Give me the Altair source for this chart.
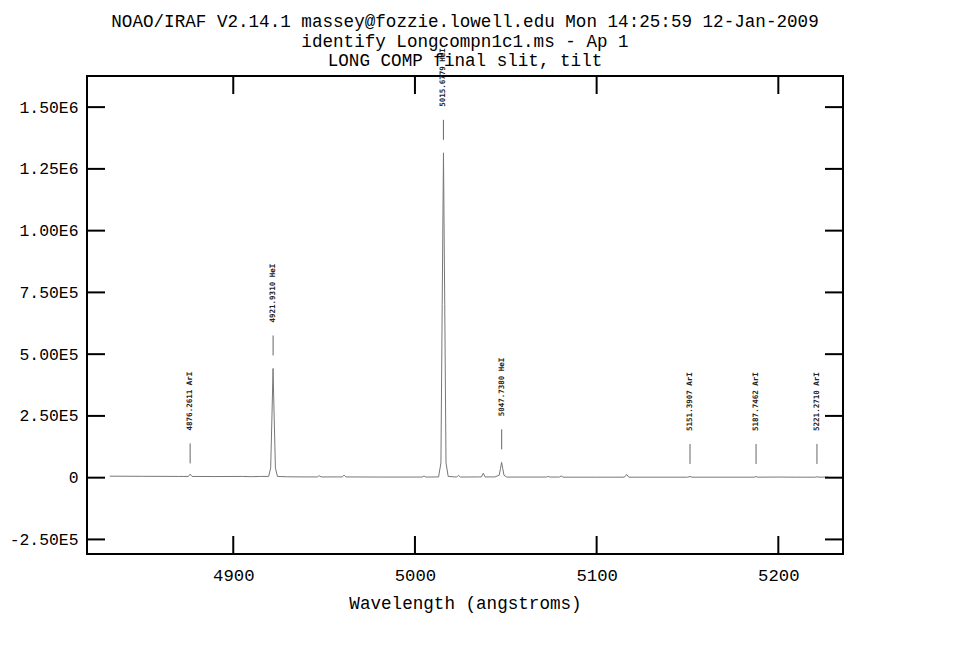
import altair as alt
import pandas as pd

# ---------------- text ----------------
title_lines = [
    "NOAO/IRAF V2.14.1 massey@fozzie.lowell.edu Mon 14:25:59 12-Jan-2009",
    "identify Longcompn1c1.ms - Ap 1",
    "LONG COMP final slit, tilt",
]
x_title = "Wavelength (angstroms)"

# ---------------- spectrum ----------------
spec_wl = [4832.0, 4850.0, 4870.0, 4875.3, 4876.3, 4877.3, 4890.0, 4905.0, 4910.0, 4915.0,
           4919.5, 4920.6, 4921.3, 4921.9, 4922.5, 4923.2, 4924.3, 4930.0, 4940.0, 4946.3,
           4947.3, 4948.3, 4958.0, 4960.0, 4961.0, 4962.0, 4980.0, 5000.0, 5004.0, 5005.0,
           5006.0, 5013.0, 5014.3, 5015.0, 5015.7, 5016.4, 5017.1, 5018.3, 5022.0, 5023.0,
           5024.0, 5025.0, 5035.0, 5036.6, 5037.6, 5038.6, 5044.0, 5046.4, 5047.1, 5047.7,
           5048.3, 5049.0, 5050.5, 5072.4, 5073.4, 5074.4, 5079.5, 5080.5, 5081.5, 5100.0,
           5115.3, 5116.5, 5117.7, 5150.0, 5151.4, 5152.5, 5170.0, 5186.7, 5187.7, 5188.7,
           5200.0, 5210.0, 5220.3, 5221.3, 5222.3, 5227.5]
spec_flux = [6000, 5500, 5000, 5000, 14000, 5000, 4500, 5000, 4000, 5000,
             5000, 40000, 250000, 442000, 250000, 40000, 5000, 3500, 3000, 3000,
             8000, 3000, 3000, 3000, 10000, 3000, 2500, 2500, 2500, 7000,
             2500, 3000, 60000, 700000, 1315000, 700000, 60000, 5000, 3000, 3000,
             9000, 2500, 3000, 3000, 18000, 3000, 3000, 10000, 38000, 62000,
             38000, 10000, 2500, 2500, 5000, 2500, 2500, 7000, 2000, 2000,
             2000, 13000, 2000, 2000, 4500, 2000, 2000, 2000, 4500, 2000,
             2500, 2000, 2000, 3500, 2000, 2500]

# ---------------- identified lines ----------------
line_wl = [4876.2611, 4921.9310, 5015.6779, 5047.7380, 5151.3907, 5187.7462, 5221.2710]
line_label = ["4876.2611 ArI", "4921.9310 HeI", "5015.6779 HeI", "5047.7380 HeI",
              "5151.3907 ArI", "5187.7462 ArI", "5221.2710 ArI"]
line_peak = [5000, 442000, 1315000, 62000, 3000, 3000, 3000]

# ---------------- axes ----------------
x_ticks = [4900, 5000, 5100, 5200]
y_ticks = [-250000, 0, 250000, 500000, 750000, 1000000, 1250000, 1500000]
y_tick_labels = ["-2.50E5", "0", "2.50E5", "5.00E5", "7.50E5", "1.00E6", "1.25E6", "1.50E6"]
x_domain = [4819.5, 5235.6]
y_domain = [-309000, 1626000]

W, H = 756, 478
FONT = "Liberation Mono"
TICK = 18

spec_df = pd.DataFrame({"wl": spec_wl, "flux": spec_flux})
lines_df = pd.DataFrame({"wl": line_wl, "label": line_label, "peak": line_peak})
xt_df = pd.DataFrame({"wl": x_ticks})
yt_df = pd.DataFrame({"flux": y_ticks})
title_df = pd.DataFrame({"t": ["\n".join(title_lines)]})

y_expr = "''"
for v, l in zip(reversed(y_ticks), reversed(y_tick_labels)):
    y_expr = f"datum.value == {v} ? '{l}' : ({y_expr})"

xs = alt.Scale(domain=x_domain, nice=False, zero=False)
ys = alt.Scale(domain=y_domain, nice=False, zero=False)
x_axis = alt.Axis(values=x_ticks, format="d", title=x_title, ticks=False, domain=False,
                  grid=False, labelPadding=12, titlePadding=11,
                  labelFontSize=17.3, titleFontSize=17.6)
y_axis = alt.Axis(values=y_ticks, labelExpr=y_expr, title=None, ticks=False,
                  domain=False, grid=False, labelPadding=9, labelFontSize=16.4)


def X(field):
    return alt.X(field, scale=xs, axis=x_axis)


def Y(field):
    return alt.Y(field, scale=ys, axis=y_axis)


spectrum = alt.Chart(spec_df).mark_line(color="#777777", strokeWidth=1).encode(
    x=X("wl:Q"), y=Y("flux:Q"))

line_ticks = alt.Chart(lines_df).mark_rule(color="#666666", strokeWidth=1,
                                           yOffset=-13, y2Offset=-33).encode(
    x=X("wl:Q"), y=Y("peak:Q"), y2="peak:Q")

line_text = alt.Chart(lines_df).mark_text(angle=270, align="left", baseline="middle",
                                          yOffset=-46, font="DejaVu Sans Mono",
                                          fontSize=7.5, fontWeight="bold", color="#222222").encode(
    x=X("wl:Q"), y=Y("peak:Q"), text="label:N")

rule_style = dict(color="black", strokeWidth=2)
bottom_ticks = alt.Chart(xt_df).mark_rule(**rule_style).encode(
    x=X("wl:Q"), y=alt.value(H), y2=alt.value(H - TICK))
top_ticks = alt.Chart(xt_df).mark_rule(**rule_style).encode(
    x=X("wl:Q"), y=alt.value(0), y2=alt.value(TICK))
left_ticks = alt.Chart(yt_df).mark_rule(**rule_style).encode(
    y=Y("flux:Q"), x=alt.value(0), x2=alt.value(TICK))
right_ticks = alt.Chart(yt_df).mark_rule(**rule_style).encode(
    y=Y("flux:Q"), x=alt.value(W), x2=alt.value(W - TICK))

title_text = alt.Chart(title_df).mark_text(
    font=FONT, fontSize=17.6, lineHeight=19.5, lineBreak="\n", align="center",
    baseline="top", color="black").encode(
    x=alt.value(W / 2), y=alt.value(-63), text="t:N")

chart = alt.layer(
    spectrum, line_ticks, line_text, bottom_ticks, top_ticks, left_ticks, right_ticks,
    title_text
).properties(
    width=W, height=H,
    autosize=alt.AutoSizeParams(type="none"),
    padding={"left": 79, "top": 68, "right": 110, "bottom": 80},
).configure_view(
    stroke="black", strokeWidth=2
).configure_axis(
    labelFont=FONT, labelColor="black",
    titleFont=FONT, titleFontWeight="normal", titleColor="black",
)

chart.save("out.html", embed_options={"renderer": "svg", "actions": False})
